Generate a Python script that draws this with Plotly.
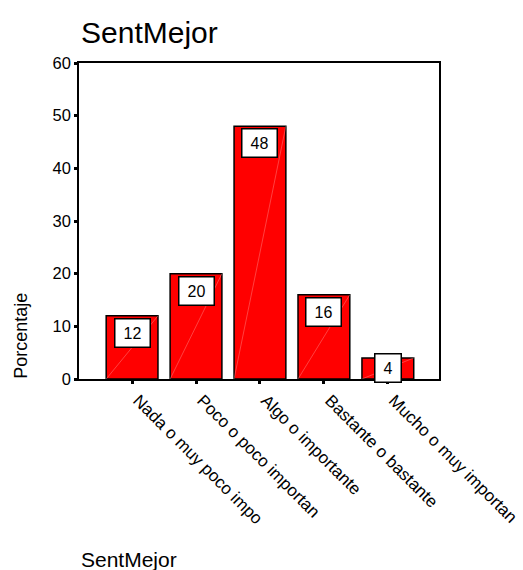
import plotly.graph_objects as go

# Frequency table for SentMejor (percent of respondents)
categories = [
    "Nada o muy poco impo",
    "Poco o poco importan",
    "Algo o importante",
    "Bastante o bastante",
    "Mucho o muy importan",
]
percentages = [12, 20, 48, 16, 4]
y_ticks = [0, 10, 20, 30, 40, 50, 60]

FONT = "Liberation Sans, Arial, sans-serif"
BAR_WIDTH = 0.81

fig = go.Figure(
    go.Bar(
        x=list(range(len(categories))),
        y=percentages,
        width=BAR_WIDTH,
        marker=dict(color="#ff0000", line=dict(color="black", width=1.5)),
        hoverinfo="skip",
    )
)

# Faint diagonal hatch across each bar (bottom-left to top-right)
shapes = []
for i, val in enumerate(percentages):
    shapes.append(
        dict(
            type="line", xref="x", yref="y",
            x0=i - BAR_WIDTH / 2, y0=0, x1=i + BAR_WIDTH / 2, y1=val,
            line=dict(color="rgba(255,180,180,0.6)", width=0.6),
            layer="above",
        )
    )

# Value boxes near the top of each bar (centered in the bar if it is too short)
annotations = []
for i, val in enumerate(percentages):
    short = val < 6
    label = str(val)
    annotations.append(
        dict(
            x=i,
            y=val / 2 if short else val,
            xref="x",
            yref="y",
            text=label,
            showarrow=False,
            yanchor="middle" if short else "top",
            yshift=0 if short else -2,
            font=dict(family=FONT, size=16, color="black"),
            bgcolor="white",
            bordercolor="black",
            borderwidth=1.5,
            borderpad=4,
            width=9 * len(label) + 8,
            height=19,
        )
    )

# Title and axis titles
annotations += [
    dict(text="SentMejor", xref="paper", yref="paper", x=0, y=1.0, yshift=31,
         xanchor="left", yanchor="middle", showarrow=False,
         font=dict(family=FONT, size=30, color="black")),
    dict(text="Porcentaje", xref="paper", yref="paper", x=-0.161, y=0.137,
         xanchor="center", yanchor="middle", textangle=-90, showarrow=False,
         font=dict(family=FONT, size=18, color="black")),
    dict(text="SentMejor", xref="paper", yref="paper", x=0, y=-0.57,
         xanchor="left", yanchor="middle", showarrow=False,
         font=dict(family=FONT, size=21, color="black")),
]

fig.update_layout(
    width=523,
    height=570,
    margin=dict(l=79, r=84, t=63, b=191, autoexpand=False),
    paper_bgcolor="white",
    plot_bgcolor="white",
    showlegend=False,
    annotations=annotations,
    shapes=shapes,
    font=dict(family=FONT, color="black"),
)

fig.update_xaxes(
    range=[-0.83, 4.8],
    tickvals=list(range(len(categories))),
    ticktext=categories,
    automargin=False,
    showline=True,
    mirror=True,
    linecolor="black",
    linewidth=1.5,
    ticks="outside",
    ticklen=3,
    tickwidth=3,
    tickcolor="black",
    tickangle=45,
    ticklabelshift=6,
    tickfont=dict(family=FONT, size=17, color="black"),
    showgrid=False,
    zeroline=False,
)

fig.update_yaxes(
    range=[0, 60],
    tickvals=y_ticks,
    ticktext=[str(t) for t in y_ticks],
    automargin=False,
    showline=True,
    mirror=True,
    linecolor="black",
    linewidth=1.5,
    ticks="outside",
    ticklen=3,
    tickwidth=3,
    tickcolor="black",
    tickfont=dict(family=FONT, size=16.5, color="black"),
    showgrid=False,
    zeroline=False,
)

fig.write_html("out.html")
